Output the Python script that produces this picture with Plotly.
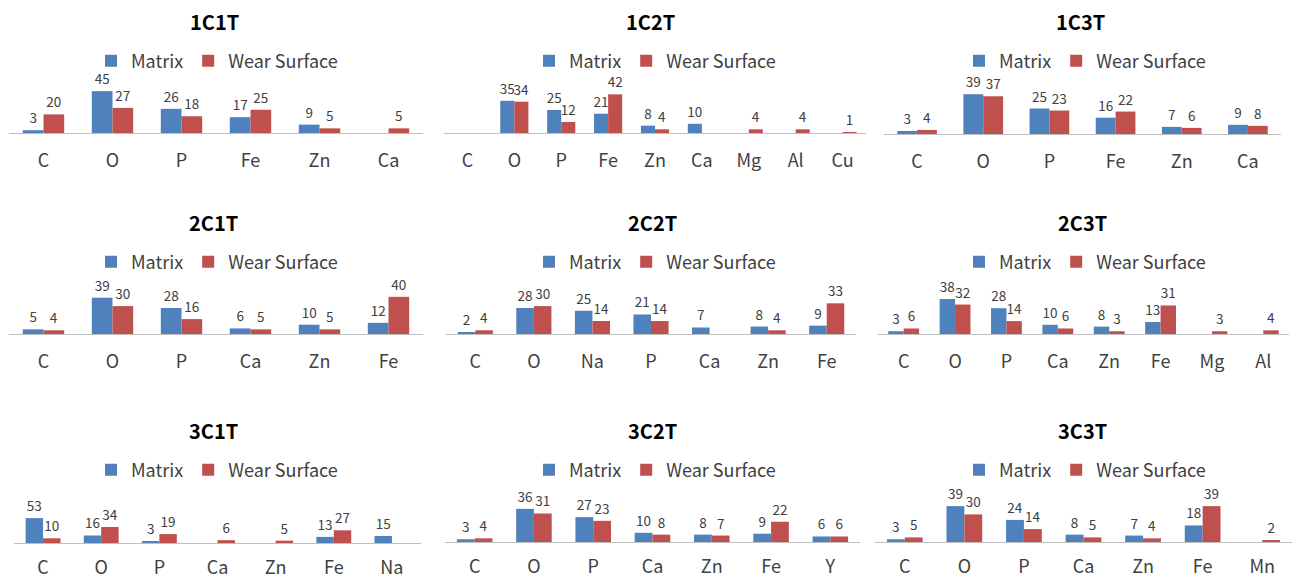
import plotly.graph_objects as go

W, H = 1293, 579

# Element composition per sample: categories, matrix values, wear-surface values
titles = ["1C1T", "1C2T", "1C3T", "2C1T", "2C2T", "2C3T", "3C1T", "3C2T", "3C3T"]

elements_1c1t = ["C", "O", "P", "Fe", "Zn", "Ca"]
matrix_1c1t = [3, 45, 26, 17, 9, None]
wear_1c1t = [20, 27, 18, 25, 5, 5]

elements_1c2t = ["C", "O", "P", "Fe", "Zn", "Ca", "Mg", "Al", "Cu"]
matrix_1c2t = [None, 35, 25, 21, 8, 10, None, None, None]
wear_1c2t = [None, 34, 12, 42, 4, None, 4, 4, 1]

elements_1c3t = ["C", "O", "P", "Fe", "Zn", "Ca"]
matrix_1c3t = [3, 39, 25, 16, 7, 9]
wear_1c3t = [4, 37, 23, 22, 6, 8]

elements_2c1t = ["C", "O", "P", "Ca", "Zn", "Fe"]
matrix_2c1t = [5, 39, 28, 6, 10, 12]
wear_2c1t = [4, 30, 16, 5, 5, 40]

elements_2c2t = ["C", "O", "Na", "P", "Ca", "Zn", "Fe"]
matrix_2c2t = [2, 28, 25, 21, 7, 8, 9]
wear_2c2t = [4, 30, 14, 14, None, 4, 33]

elements_2c3t = ["C", "O", "P", "Ca", "Zn", "Fe", "Mg", "Al"]
matrix_2c3t = [3, 38, 28, 10, 8, 13, None, None]
wear_2c3t = [6, 32, 14, 6, 3, 31, 3, 4]

elements_3c1t = ["C", "O", "P", "Ca", "Zn", "Fe", "Na"]
matrix_3c1t = [53, 16, 3, None, None, 13, 15]
wear_3c1t = [10, 34, 19, 6, 5, 27, None]

elements_3c2t = ["C", "O", "P", "Ca", "Zn", "Fe", "Y"]
matrix_3c2t = [3, 36, 27, 10, 8, 9, 6]
wear_3c2t = [4, 31, 23, 8, 7, 22, 6]

elements_3c3t = ["C", "O", "P", "Ca", "Zn", "Fe", "Mn"]
matrix_3c3t = [3, 39, 24, 8, 7, 18, None]
wear_3c3t = [5, 30, 14, 5, 4, 39, 2]

panels = [
    (elements_1c1t, matrix_1c1t, wear_1c1t),
    (elements_1c2t, matrix_1c2t, wear_1c2t),
    (elements_1c3t, matrix_1c3t, wear_1c3t),
    (elements_2c1t, matrix_2c1t, wear_2c1t),
    (elements_2c2t, matrix_2c2t, wear_2c2t),
    (elements_2c3t, matrix_2c3t, wear_2c3t),
    (elements_3c1t, matrix_3c1t, wear_3c1t),
    (elements_3c2t, matrix_3c2t, wear_3c2t),
    (elements_3c3t, matrix_3c3t, wear_3c3t),
]

# Layout geometry in pixels: plot x-extent, baseline y, vertical px per unit
x_extent = [(9, 423), (444, 866), (884, 1281),
            (9, 423), (446, 856), (878, 1289),
            (14, 421), (445, 860), (875, 1292)]
baseline = [133, 133, 134, 334, 334, 334, 543, 542, 542]
label_gap = [11, 11, 11, 11, 11, 11, 8, 8, 8]
px_per_unit = [0.93, 0.92, 1.02, 0.93, 0.93, 0.92, 0.47, 0.92, 0.92]
title_pos = [(215, 22), (650, 22), (1080, 22),
             (213, 222), (652, 222), (1082, 222),
             (213, 430), (652, 430), (1082, 430)]
legend_pos = [(217, 61), (655, 61), (1085, 61),
              (217, 262), (655, 262), (1085, 262),
              (217, 470), (655, 470), (1085, 470)]
PLOT_H = 60

BLUE = "#4F81BD"
RED = "#C0504D"
FONT = "Noto Sans CJK KR"
TXT = "#404040"


def px_x(v):
    return v / W


def px_y(v):
    return 1 - v / H


fig = go.Figure()
layout = {}

for i, (cats, mat, wear) in enumerate(panels):
    k = "" if i == 0 else str(i + 1)
    xa, ya = "x" + k, "y" + k
    leg = "legend" + k
    for name, vals, color in (("Matrix", mat, BLUE), ("Wear Surface", wear, RED)):
        fig.add_trace(go.Bar(
            x=cats, y=vals, name=name, marker_color=color,
            marker_line_width=0,
            text=[("" if v is None else str(v)) for v in vals],
            textposition="outside", constraintext="none", cliponaxis=False,
            textfont=dict(size=13.5, color=TXT, family=FONT),
            xaxis=xa, yaxis=ya, legend=leg, showlegend=True,
            hoverinfo="skip",
        ))
    x0, x1 = x_extent[i]
    b = baseline[i]
    layout["xaxis" + k] = dict(
        domain=[px_x(x0), px_x(x1)], anchor=ya,
        categoryorder="array", categoryarray=cats,
        showline=True, linecolor="#BFBFBF", linewidth=1,
        showgrid=False, ticks="", zeroline=False,
        tickfont=dict(size=18, color=TXT, family=FONT),
        ticklabelstandoff=label_gap[i], fixedrange=True, automargin=False,
    )
    layout["yaxis" + k] = dict(
        domain=[px_y(b), px_y(b - PLOT_H)], anchor=xa,
        range=[0, PLOT_H / px_per_unit[i]],
        visible=False, showgrid=False, zeroline=False, fixedrange=True,
        automargin=False,
    )
    lx, ly = legend_pos[i]
    layout[leg] = dict(
        orientation="h", x=px_x(lx), y=px_y(ly),
        xanchor="center", yanchor="middle",
        font=dict(size=18, color=TXT, family=FONT),
        itemwidth=30, bgcolor="rgba(0,0,0,0)", traceorder="normal",
    )

annotations = []
for i, t in enumerate(titles):
    tx, ty = title_pos[i]
    annotations.append(dict(
        text="<b>" + t + "</b>", x=px_x(tx), y=px_y(ty),
        xref="paper", yref="paper", xanchor="center", yanchor="middle",
        showarrow=False, font=dict(size=20, color="#000000", family=FONT),
    ))

fig.update_layout(
    width=W, height=H,
    margin=dict(l=0, r=0, t=0, b=0, autoexpand=False),
    paper_bgcolor="white", plot_bgcolor="white",
    barmode="group", bargap=0.4, bargroupgap=0,
    annotations=annotations,
    font=dict(family=FONT, color=TXT),
    **layout,
)

fig.write_html("out.html")
